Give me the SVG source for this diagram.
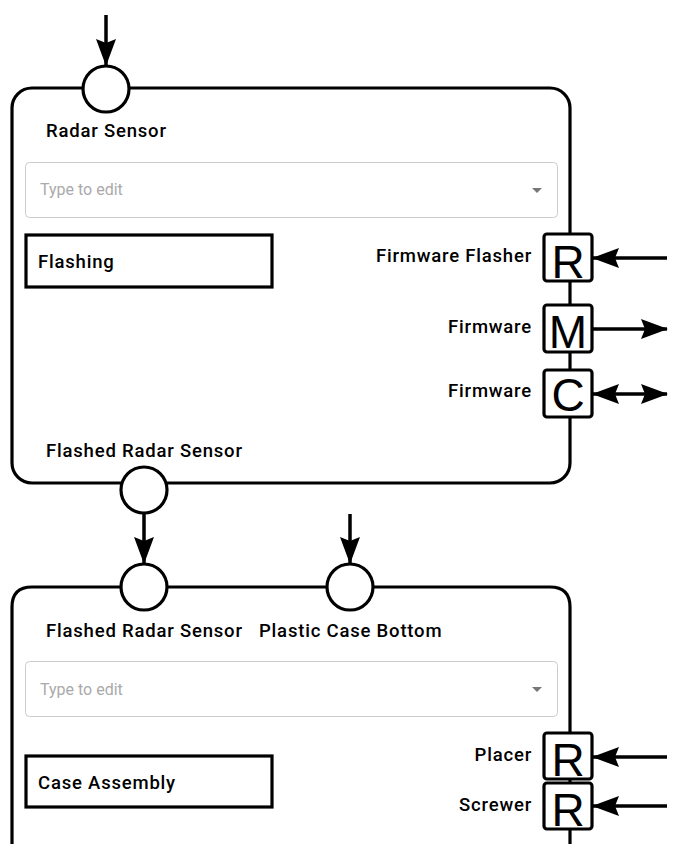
<svg xmlns="http://www.w3.org/2000/svg" width="692" height="844" viewBox="0 0 692 844">
<style>
.frame{fill:#fff;stroke:#000;stroke-width:3.2}
.port{fill:#fff;stroke:#000;stroke-width:3.2}
.lbl{font-family:Roboto,"Liberation Sans",sans-serif;font-weight:500;font-size:18.5px;letter-spacing:0.8px;fill:#000}
.ph{font-family:Roboto,"Liberation Sans",sans-serif;font-size:16px;fill:#aaa}
.dd{fill:#fff;stroke:#ccc;stroke-width:1}
.task{fill:#fff;stroke:#000;stroke-width:3.2}
.sq{fill:#fff;stroke:#000;stroke-width:3.2}
.letter{font-family:"Liberation Sans",Arial,sans-serif;font-size:46px;fill:#000;text-anchor:middle}
.edge{stroke:#000;stroke-width:3.5;fill:none}
</style>
<defs>
<marker id="ah" viewBox="0 0 27 21" refX="26" refY="10.5" markerWidth="27" markerHeight="21" orient="auto-start-reverse" markerUnits="userSpaceOnUse">
<path d="M0,0.5 L27,10.5 L0,20.5 L4,10.5 z" fill="#000"/>
</marker>
</defs>
<g id="node-flashing">
<rect class="frame" x="12" y="88" width="558" height="395" rx="20"/>
<text class="lbl" x="46" y="137">Radar Sensor</text>
<rect class="dd" x="25.5" y="162.5" width="532" height="55" rx="4"/>
<text class="ph" x="40" y="195">Type to edit</text>
<path d="M532,188 L542,188 L537,193 z" fill="#777"/>
<rect class="task" x="26" y="235" width="246" height="52"/>
<text class="lbl" x="38" y="268">Flashing</text>
<text class="lbl" x="46" y="457">Flashed Radar Sensor</text>
<text class="lbl" x="532" y="262" text-anchor="end">Firmware Flasher</text>
<text class="lbl" x="532" y="333" text-anchor="end">Firmware</text>
<text class="lbl" x="532" y="397" text-anchor="end">Firmware</text>
<circle class="port" cx="106" cy="89" r="23"/>
<circle class="port" cx="144" cy="490" r="23"/>
<rect class="sq" x="544" y="234" width="48" height="47" rx="3"/>
<text class="letter" x="568" y="278">R</text>
<rect class="sq" x="544" y="305" width="48" height="47" rx="3"/>
<text class="letter" x="568" y="348">M</text>
<rect class="sq" x="544" y="370" width="48" height="47" rx="3"/>
<text class="letter" x="568" y="411">C</text>
</g>
<g id="node-case-assembly">
<path class="frame" d="M12,860 L12,607 Q12,587 32,587 L550,587 Q570,587 570,607 L570,860"/>
<text class="lbl" x="46" y="637">Flashed Radar Sensor</text>
<text class="lbl" x="259" y="637">Plastic Case Bottom</text>
<rect class="dd" x="25.5" y="661.5" width="532" height="55" rx="4"/>
<text class="ph" x="40" y="695">Type to edit</text>
<path d="M532,687 L542,687 L537,692 z" fill="#777"/>
<rect class="task" x="26" y="756" width="246" height="51"/>
<text class="lbl" x="38" y="789">Case Assembly</text>
<text class="lbl" x="532" y="761" text-anchor="end">Placer</text>
<text class="lbl" x="532" y="811" text-anchor="end">Screwer</text>
<circle class="port" cx="144" cy="587" r="23"/>
<circle class="port" cx="350" cy="587" r="23"/>
<rect class="sq" x="544" y="733" width="48" height="46" rx="3"/>
<text class="letter" x="568" y="776">R</text>
<rect class="sq" x="544" y="783" width="48" height="46" rx="3"/>
<text class="letter" x="568" y="826">R</text>
</g>
<g id="connectors">
<line class="edge" x1="106" y1="15" x2="106" y2="65" marker-end="url(#ah)"/>
<line class="edge" x1="667" y1="258" x2="593" y2="258" marker-end="url(#ah)"/>
<line class="edge" x1="593" y1="329" x2="667" y2="329" marker-end="url(#ah)"/>
<line class="edge" x1="593" y1="394" x2="667" y2="394" marker-start="url(#ah)" marker-end="url(#ah)"/>
<line class="edge" x1="144" y1="514" x2="144" y2="563" marker-end="url(#ah)"/>
<line class="edge" x1="350" y1="514" x2="350" y2="563" marker-end="url(#ah)"/>
<line class="edge" x1="667" y1="757" x2="593" y2="757" marker-end="url(#ah)"/>
<line class="edge" x1="667" y1="806" x2="593" y2="806" marker-end="url(#ah)"/>
</g>
</svg>
